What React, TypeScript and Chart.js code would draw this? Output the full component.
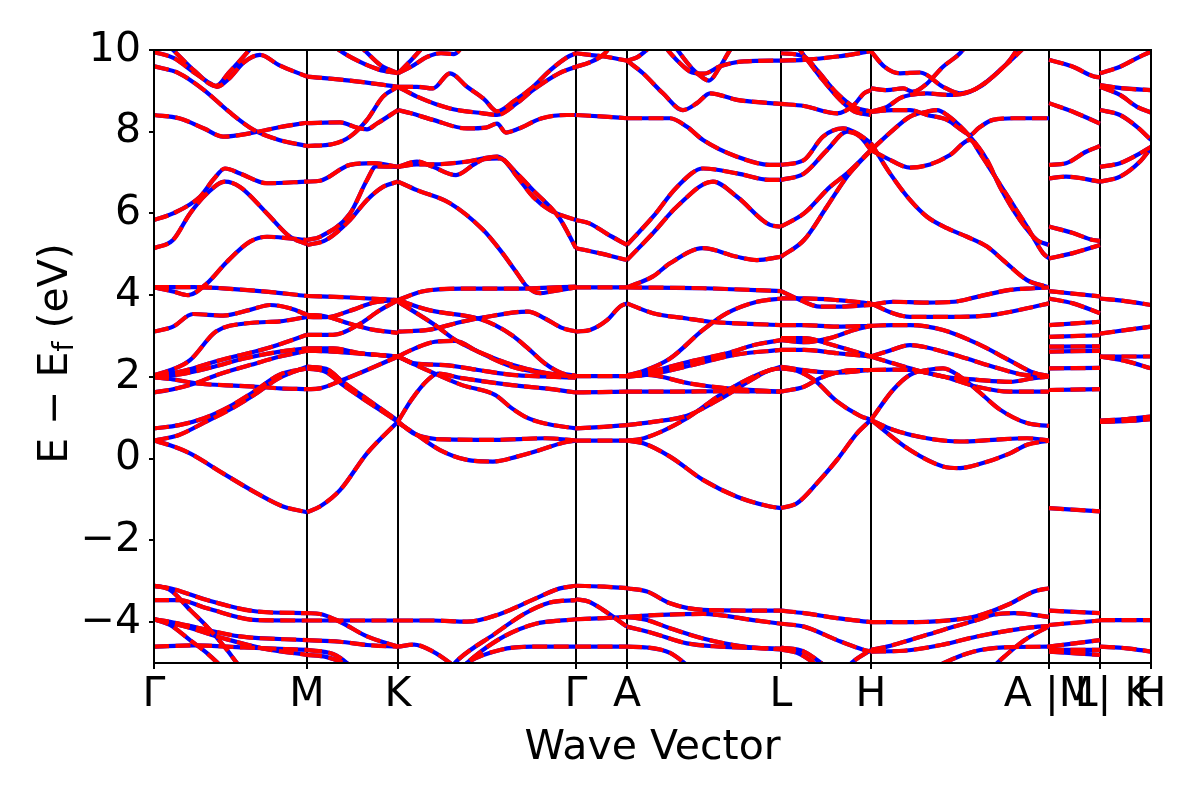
import { useEffect, useRef } from 'react';
import { Chart, registerables } from 'chart.js';

Chart.register(...registerables);

type Curve = [number, number][];

const FONT = "'DejaVu Sans'";

// high-symmetry positions along the k-path and their labels
const kTicks = [0, 1.53, 2.44, 4.22, 4.73, 6.27, 7.17, 8.95, 9.46, 9.97];
const kLabels = ['Γ', 'M', 'K', 'Γ', 'A', 'L', 'H', 'A |M', '\u00a0\u00a0L| K', 'H'];
const yTicks = [-4, -2, 0, 2, 4, 6, 8, 10];

// Γ → M
const segGM: Curve[] = [
  [[0, 9.95], [0.2, 9.8], [0.4, 9.45], [0.55, 9.2], [0.63, 9.1], [0.75, 9.3], [0.9, 9.7], [1.06, 9.88], [1.25, 9.63], [1.53, 9.35]],
  [[0.05, 10.3], [0.19, 10.0], [0.4, 9.5], [0.62, 9.12], [0.75, 9.45], [0.96, 10.02], [1.05, 10.3]],
  [[0, 9.6], [0.25, 9.43], [0.5, 9.02], [0.75, 8.49], [1.0, 8.04], [1.25, 7.8], [1.53, 7.65]],
  [[0, 8.41], [0.25, 8.33], [0.5, 8.08], [0.69, 7.88], [1.0, 7.98], [1.25, 8.11], [1.53, 8.22]],
  [[0, 5.84], [0.19, 6.0], [0.46, 6.41], [0.6, 6.85], [0.71, 7.1], [0.86, 6.98], [1.13, 6.74], [1.53, 6.78]],
  [[0, 5.15], [0.19, 5.35], [0.36, 6.0], [0.53, 6.49], [0.71, 6.78], [0.86, 6.65], [1.13, 6.0], [1.36, 5.43], [1.53, 5.25]],
  [[0, 4.19], [0.19, 4.09], [0.34, 4.0], [0.53, 4.29], [0.73, 4.82], [0.96, 5.31], [1.13, 5.43], [1.36, 5.39], [1.53, 5.35]],
  [[0, 4.2], [0.4, 4.2], [0.8, 4.15], [1.2, 4.07], [1.53, 3.98]],
  [[0, 3.11], [0.19, 3.23], [0.39, 3.54], [0.69, 3.5], [0.96, 3.64], [1.16, 3.76], [1.36, 3.68], [1.53, 3.52]],
  [[0, 2.04], [0.2, 2.2], [0.36, 2.41], [0.62, 3.11], [0.96, 3.32], [1.26, 3.36], [1.53, 3.47]],
  [[0, 2.02], [0.3, 2.15], [0.66, 2.41], [1.13, 2.7], [1.53, 3.03]],
  [[0, 2.0], [0.3, 2.08], [0.6, 2.25], [0.9, 2.45], [1.26, 2.62], [1.53, 2.7]],
  [[0, 1.62], [0.19, 1.7], [0.43, 1.86], [0.63, 2.05], [0.96, 2.29], [1.26, 2.5], [1.53, 2.64]],
  [[0, 1.99], [0.19, 1.94], [0.43, 1.84], [0.69, 1.8], [1.03, 1.76], [1.26, 1.72], [1.53, 1.7]],
  [[0, 0.74], [0.25, 0.82], [0.5, 0.99], [0.75, 1.27], [1.0, 1.64], [1.25, 2.05], [1.53, 2.21]],
  [[0, 0.44], [0.25, 0.58], [0.5, 0.88], [0.75, 1.19], [1.0, 1.56], [1.25, 1.97], [1.53, 2.25]],
  [[0, 0.44], [0.16, 0.33], [0.36, 0.13], [0.69, -0.36], [1.03, -0.85], [1.29, -1.17], [1.53, -1.31]],
  [[0, -3.11], [0.16, -3.17], [0.53, -3.46], [1.03, -3.74], [1.53, -3.78]],
  [[0, -3.11], [0.16, -3.21], [0.36, -3.7], [0.53, -4.11], [0.73, -4.68], [0.86, -5.09], [0.95, -5.3]],
  [[0, -3.46], [0.25, -3.46], [0.53, -3.66], [1.03, -3.95], [1.53, -3.96]],
  [[0, -3.93], [0.16, -3.99], [0.46, -4.15], [0.86, -4.35], [1.53, -4.44]],
  [[0, -3.93], [0.16, -4.07], [0.36, -4.44], [0.53, -4.76], [0.66, -5.05], [0.78, -5.3]],
  [[0, -4.6], [0.4, -4.57], [0.9, -4.62], [1.53, -4.68]],
  [[0, -3.93], [0.3, -4.1], [0.7, -4.4], [1.1, -4.65], [1.53, -4.8]],
];

// M → K
const segMK: Curve[] = [
  [[1.53, 9.35], [1.96, 9.25], [2.44, 9.1]],
  [[1.75, 10.2], [1.85, 10.0], [2.05, 9.72], [2.25, 9.52], [2.44, 9.43]],
  [[2.0, 10.2], [2.1, 10.0], [2.27, 9.62], [2.44, 9.43]],
  [[1.53, 8.21], [1.86, 8.23], [2.03, 8.1], [2.13, 8.06], [2.23, 8.2], [2.44, 8.53]],
  [[1.53, 7.65], [1.79, 7.7], [1.96, 7.88], [2.13, 8.29], [2.29, 8.86], [2.44, 9.1]],
  [[1.53, 6.78], [1.66, 6.8], [1.96, 7.19], [2.19, 7.23], [2.44, 7.14]],
  [[1.53, 5.35], [1.66, 5.43], [1.96, 6.0], [2.13, 6.82], [2.22, 7.15], [2.44, 7.14]],
  [[1.53, 5.23], [1.72, 5.35], [1.96, 5.84], [2.13, 6.33], [2.29, 6.65], [2.44, 6.78]],
  [[1.53, 3.98], [1.9, 3.95], [2.44, 3.88]],
  [[1.53, 3.52], [1.72, 3.48], [1.96, 3.3], [2.2, 3.15], [2.44, 3.08]],
  [[1.53, 3.47], [1.72, 3.46], [1.96, 3.62], [2.2, 3.82], [2.44, 3.88]],
  [[1.53, 3.03], [1.79, 3.03], [2.06, 3.3], [2.25, 3.62], [2.44, 3.88]],
  [[1.53, 2.7], [1.79, 2.7], [2.06, 2.58], [2.44, 2.5]],
  [[1.53, 2.64], [1.79, 2.62], [2.13, 2.56], [2.44, 2.5]],
  [[1.53, 2.25], [1.72, 2.2], [1.89, 1.88], [2.13, 1.46], [2.44, 0.93]],
  [[1.53, 2.21], [1.72, 2.12], [1.89, 1.8], [2.13, 1.4], [2.44, 0.9]],
  [[1.53, 1.7], [1.66, 1.72], [1.89, 1.93], [2.13, 2.17], [2.44, 2.5]],
  [[1.53, -1.31], [1.66, -1.17], [1.86, -0.77], [2.13, 0.13], [2.44, 0.91]],
  [[1.53, -3.78], [1.66, -3.8], [1.86, -3.99], [2.13, -4.35], [2.44, -4.6]],
  [[1.53, -3.96], [2.0, -3.96], [2.44, -3.96]],
  [[1.53, -4.44], [1.86, -4.48], [2.13, -4.56], [2.44, -4.6]],
  [[1.53, -4.68], [1.79, -4.78], [1.93, -5.0], [2.05, -5.3]],
  [[1.53, -4.8], [1.72, -4.85], [1.93, -5.05], [2.05, -5.3]],
];

// K → Γ
const segKG: Curve[] = [
  [[2.44, 9.43], [2.57, 9.59], [2.74, 9.84], [2.87, 9.92], [3.0, 9.9], [3.12, 10.2]],
  [[2.44, 9.43], [2.55, 9.7], [2.68, 10.05], [2.75, 10.3]],
  [[2.44, 9.1], [2.63, 9.1], [2.79, 9.06], [2.96, 9.43], [3.13, 9.1], [3.3, 8.8], [3.43, 8.5], [3.6, 8.75], [3.79, 9.1], [3.96, 9.5], [4.13, 9.82], [4.22, 9.92]],
  [[2.44, 9.1], [2.63, 8.86], [2.96, 8.57], [3.29, 8.45], [3.43, 8.41], [3.63, 8.7], [3.79, 9.02], [4.05, 9.43], [4.22, 9.59]],
  [[2.44, 8.53], [2.57, 8.45], [2.79, 8.29], [3.13, 8.08], [3.32, 8.1], [3.43, 8.2], [3.52, 7.98], [3.63, 8.06], [3.88, 8.33], [4.13, 8.41], [4.22, 8.41]],
  [[2.44, 7.14], [2.63, 7.27], [2.79, 7.14], [3.02, 6.94], [3.2, 7.2], [3.3, 7.33], [3.46, 7.35], [3.63, 6.9], [3.79, 6.41], [3.96, 6.08], [4.22, 5.84]],
  [[2.44, 7.14], [2.63, 7.2], [2.79, 7.2], [3.13, 7.27], [3.43, 7.39], [3.63, 6.98], [3.79, 6.57], [4.05, 5.9], [4.22, 5.15]],
  [[2.44, 6.78], [2.63, 6.57], [2.96, 6.25], [3.29, 5.6], [3.46, 5.11], [3.63, 4.54], [3.73, 4.21], [3.86, 4.05], [3.99, 4.1], [4.22, 4.19]],
  [[2.44, 3.88], [2.68, 4.09], [3.08, 4.16], [3.6, 4.16], [4.22, 4.21]],
  [[2.44, 3.88], [2.74, 3.64], [3.24, 3.43], [3.41, 3.27], [3.58, 3.02], [3.74, 2.7], [3.91, 2.33], [4.08, 2.09], [4.22, 2.03]],
  [[2.44, 3.84], [2.81, 3.27], [3.01, 2.91], [3.24, 2.62], [3.58, 2.25], [3.91, 2.09], [4.22, 2.01]],
  [[2.44, 3.11], [2.74, 3.15], [3.08, 3.35], [3.28, 3.45], [3.74, 3.6], [3.91, 3.43], [4.08, 3.2], [4.22, 3.11]],
  [[2.44, 2.5], [2.61, 2.7], [2.81, 2.86], [3.01, 2.88], [3.24, 2.62], [3.58, 2.3], [3.91, 2.1], [4.22, 2.0]],
  [[2.44, 2.5], [2.61, 2.33], [2.91, 2.29], [3.24, 2.17], [3.58, 2.05], [3.91, 2.01], [4.22, 1.98]],
  [[2.44, 2.5], [2.61, 2.3], [2.81, 2.08], [3.08, 1.8], [3.41, 1.56], [3.58, 1.23], [3.74, 0.99], [3.91, 0.86], [4.22, 0.74]],
  [[2.44, 0.91], [2.58, 1.46], [2.74, 1.93], [2.84, 2.08], [3.08, 1.97], [3.58, 1.8], [3.91, 1.72], [4.22, 1.62]],
  [[2.44, 0.91], [2.61, 0.6], [2.91, 0.47], [3.41, 0.46], [3.91, 0.5], [4.22, 0.44]],
  [[2.44, 0.88], [2.63, 0.58], [2.86, 0.21], [3.13, -0.03], [3.39, -0.07], [3.63, 0.05], [3.86, 0.21], [4.09, 0.39], [4.22, 0.44]],
  [[2.44, -3.96], [2.79, -3.96], [3.13, -3.99], [3.46, -3.8], [3.79, -3.45], [4.05, -3.18], [4.22, -3.11]],
  [[2.9, -5.3], [3.05, -4.9], [3.4, -4.3], [3.7, -3.8], [3.96, -3.52], [4.22, -3.46]],
  [[3.0, -5.3], [3.2, -4.85], [3.5, -4.35], [3.8, -4.05], [4.22, -3.93]],
  [[2.44, -4.6], [2.6, -4.55], [2.79, -4.72], [2.96, -5.0], [3.1, -5.3]],
  [[3.0, -5.3], [3.13, -5.0], [3.46, -4.68], [3.79, -4.6], [4.22, -4.6]],
];

// Γ → A
const segGA: Curve[] = [
  [[4.22, 9.92], [4.5, 9.84], [4.73, 9.74]],
  [[4.22, 9.59], [4.36, 9.7], [4.5, 9.9], [4.6, 10.2]],
  [[4.22, 8.41], [4.5, 8.37], [4.73, 8.33]],
  [[4.22, 5.84], [4.36, 5.75], [4.53, 5.5], [4.73, 5.23]],
  [[4.22, 5.15], [4.45, 5.03], [4.73, 4.86]],
  [[4.22, 4.19], [4.73, 4.19]],
  [[4.22, 3.11], [4.36, 3.15], [4.53, 3.39], [4.66, 3.72], [4.73, 3.8]],
  [[4.22, 2.02], [4.73, 2.02]],
  [[4.22, 1.62], [4.73, 1.64]],
  [[4.22, 0.74], [4.5, 0.78], [4.73, 0.82]],
  [[4.22, 0.44], [4.73, 0.44]],
  [[4.22, -3.11], [4.5, -3.13], [4.73, -3.17]],
  [[4.22, -3.44], [4.35, -3.5], [4.49, -3.7], [4.73, -4.11]],
  [[4.22, -3.93], [4.5, -3.9], [4.73, -3.87]],
  [[4.22, -4.6], [4.73, -4.6]],
];

// A → L
const segAL: Curve[] = [
  [[4.73, 9.74], [4.89, 9.43], [5.09, 8.94], [5.29, 8.53], [5.43, 8.7], [5.56, 8.94], [5.83, 8.78], [6.16, 8.7], [6.27, 8.68]],
  [[4.73, 9.74], [4.83, 9.82], [4.95, 10.05], [5.05, 10.3]],
  [[5.15, 10.3], [5.25, 9.95], [5.38, 9.55], [5.5, 9.3], [5.55, 9.25], [5.65, 9.55], [5.76, 10.0], [5.85, 10.3]],
  [[5.1, 10.1], [5.25, 9.7], [5.38, 9.45], [5.5, 9.42], [5.66, 9.6], [5.9, 9.72], [6.27, 9.74]],
  [[4.73, 8.33], [5.16, 8.33], [5.33, 8.12], [5.49, 7.8], [5.83, 7.39], [6.16, 7.19], [6.27, 7.19]],
  [[4.73, 5.23], [4.99, 5.92], [5.23, 6.65], [5.49, 7.1], [5.83, 6.98], [6.16, 6.82], [6.27, 6.82]],
  [[4.73, 4.86], [4.99, 5.52], [5.23, 6.17], [5.59, 6.78], [5.83, 6.41], [6.16, 5.72], [6.27, 5.68]],
  [[4.73, 4.19], [4.99, 4.46], [5.16, 4.78], [5.49, 5.15], [5.83, 4.94], [6.03, 4.86], [6.27, 4.94]],
  [[4.73, 4.19], [5.49, 4.17], [6.27, 4.1]],
  [[4.73, 3.8], [4.99, 3.56], [5.33, 3.43], [5.56, 3.35], [5.83, 3.31], [6.27, 3.27]],
  [[4.73, 2.04], [4.9, 2.15], [5.16, 2.45], [5.49, 3.15], [5.73, 3.56], [6.03, 3.84], [6.27, 3.92]],
  [[4.73, 2.02], [5.0, 2.15], [5.4, 2.4], [5.76, 2.6], [6.0, 2.78], [6.27, 2.9]],
  [[4.73, 2.0], [5.0, 2.08], [5.4, 2.3], [5.83, 2.55], [6.27, 2.66]],
  [[4.73, 2.02], [4.93, 2.05], [5.36, 1.84], [5.83, 1.7], [6.27, 1.64]],
  [[4.73, 1.64], [5.2, 1.64], [5.7, 1.65], [6.27, 1.64]],
  [[4.73, 0.82], [4.99, 0.9], [5.33, 1.05], [5.66, 1.46], [5.99, 1.95], [6.16, 2.17], [6.27, 2.21]],
  [[4.73, 0.44], [4.9, 0.5], [5.33, 0.99], [5.66, 1.56], [6.03, 2.05], [6.27, 2.25]],
  [[4.73, 0.44], [4.9, 0.37], [5.16, 0.05], [5.49, -0.52], [5.83, -0.93], [6.16, -1.17], [6.27, -1.21]],
  [[4.73, -3.17], [4.93, -3.25], [5.16, -3.54], [5.49, -3.7], [6.27, -3.72]],
  [[4.73, -3.87], [5.0, -3.83], [5.49, -3.8], [5.99, -3.95], [6.27, -4.04]],
  [[4.73, -4.11], [4.99, -4.27], [5.33, -4.52], [5.66, -4.6], [5.99, -4.63], [6.27, -4.65]],
  [[4.73, -3.87], [4.93, -3.95], [5.16, -4.15], [5.49, -4.4], [5.9, -4.6], [6.27, -4.67]],
  [[4.73, -4.6], [4.93, -4.62], [5.16, -4.75], [5.33, -5.05], [5.45, -5.3]],
];

// L → H
const segLH: Curve[] = [
  [[6.27, 9.74], [6.5, 9.76], [6.83, 9.84], [7.17, 9.97]],
  [[6.27, 9.92], [6.5, 9.84], [6.63, 9.51], [6.83, 8.94], [7.0, 8.61], [7.17, 8.49]],
  [[6.4, 10.2], [6.55, 9.7], [6.66, 9.35], [6.86, 8.78], [7.0, 8.5], [7.17, 8.41]],
  [[6.27, 8.68], [6.5, 8.63], [6.83, 8.45], [7.0, 8.66], [7.1, 8.94], [7.17, 9.02]],
  [[6.27, 7.19], [6.5, 7.31], [6.69, 7.88], [6.89, 8.08], [7.03, 7.96], [7.17, 7.72]],
  [[6.27, 6.82], [6.5, 6.98], [6.73, 7.55], [6.93, 8.0], [7.06, 7.88], [7.17, 7.55]],
  [[6.27, 5.68], [6.5, 6.0], [6.76, 6.65], [6.93, 6.98], [7.17, 7.55]],
  [[6.27, 4.94], [6.5, 5.35], [6.73, 6.17], [6.93, 6.9], [7.17, 7.55]],
  [[6.27, 4.1], [6.43, 3.92], [6.66, 3.72], [6.83, 3.72], [7.17, 3.76]],
  [[6.27, 3.92], [6.5, 3.92], [6.83, 3.88], [7.17, 3.8]],
  [[6.27, 3.27], [6.5, 3.27], [6.83, 3.23], [7.17, 3.25]],
  [[6.27, 2.95], [6.5, 2.95], [6.76, 2.8], [7.17, 2.5]],
  [[6.27, 2.9], [6.5, 2.85], [6.76, 2.95], [7.0, 3.15], [7.17, 3.25]],
  [[6.27, 2.66], [6.5, 2.66], [6.83, 2.58], [7.17, 2.5]],
  [[6.27, 2.21], [6.43, 2.15], [6.6, 1.93], [6.83, 1.4], [7.06, 1.05], [7.17, 0.95]],
  [[6.27, 2.25], [6.55, 2.15], [6.8, 2.1], [7.17, 2.17]],
  [[6.27, 1.64], [6.5, 1.76], [6.66, 1.97], [6.99, 2.17], [7.17, 2.17]],
  [[6.27, -1.21], [6.43, -1.09], [6.63, -0.6], [6.83, -0.03], [7.03, 0.62], [7.17, 0.95]],
  [[6.27, -3.72], [6.5, -3.78], [6.83, -3.9], [7.17, -4.0]],
  [[6.27, -4.04], [6.5, -4.11], [6.83, -4.44], [7.1, -4.68], [7.17, -4.72]],
  [[6.27, -4.67], [6.43, -4.75], [6.6, -5.0], [6.75, -5.3]],
  [[6.27, -4.62], [6.5, -4.72], [6.7, -5.05], [6.85, -5.3]],
  [[6.85, -5.3], [7.0, -4.95], [7.17, -4.68]],
];

// H → A
const segHA: Curve[] = [
  [[7.17, 9.97], [7.3, 9.6], [7.46, 9.43], [7.66, 9.45], [7.89, 9.1], [8.06, 8.94], [8.26, 9.1], [8.46, 9.51], [8.66, 9.96], [8.75, 10.2]],
  [[7.17, 9.06], [7.33, 9.02], [7.49, 9.06], [7.59, 8.98], [7.73, 9.18], [7.89, 9.59], [8.06, 9.92], [8.15, 10.2]],
  [[7.17, 8.49], [7.39, 8.53], [7.56, 8.53], [7.73, 8.41], [7.93, 8.29], [8.1, 8.0], [8.16, 7.92], [8.25, 8.1], [8.39, 8.29], [8.6, 8.33], [8.95, 8.33]],
  [[7.17, 8.49], [7.33, 8.61], [7.46, 8.82], [7.56, 8.9], [7.73, 8.94], [7.93, 8.9], [8.16, 8.98], [8.39, 9.35], [8.56, 9.76], [8.68, 10.2]],
  [[7.17, 7.55], [7.39, 8.04], [7.56, 8.37], [7.73, 8.49], [7.83, 8.53], [7.93, 8.41], [8.16, 7.88], [8.33, 7.31], [8.46, 6.65], [8.66, 5.84], [8.83, 5.35], [8.95, 5.23]],
  [[7.17, 7.55], [7.33, 7.35], [7.56, 7.12], [7.76, 7.2], [7.96, 7.43], [8.16, 7.8], [8.26, 7.47], [8.39, 6.98], [8.56, 6.33], [8.73, 5.68], [8.89, 5.03], [8.95, 4.9]],
  [[7.17, 7.72], [7.36, 6.98], [7.56, 6.33], [7.73, 5.92], [7.93, 5.64], [8.13, 5.43], [8.33, 5.19], [8.49, 4.86], [8.73, 4.37], [8.95, 4.19]],
  [[7.17, 3.76], [7.39, 3.84], [7.73, 3.82], [8.0, 3.84], [8.23, 3.96], [8.56, 4.13], [8.8, 4.17], [8.95, 4.19]],
  [[7.17, 3.8], [7.39, 3.56], [7.56, 3.47], [8.06, 3.47], [8.39, 3.52], [8.73, 3.68], [8.95, 3.8]],
  [[7.17, 3.25], [7.39, 3.27], [7.56, 3.27], [7.89, 3.15], [8.23, 2.82], [8.56, 2.4], [8.8, 2.1], [8.95, 2.02]],
  [[7.17, 2.5], [7.33, 2.62], [7.56, 2.78], [7.73, 2.72], [8.06, 2.5], [8.39, 2.25], [8.7, 2.05], [8.95, 2.02]],
  [[7.17, 2.5], [7.33, 2.38], [7.56, 2.21], [7.89, 2.01], [8.23, 1.93], [8.56, 1.88], [8.8, 1.97], [8.95, 2.01]],
  [[7.17, 2.17], [7.39, 2.18], [7.56, 2.17], [7.89, 2.01], [8.23, 1.76], [8.56, 1.64], [8.95, 1.64]],
  [[7.17, 0.95], [7.39, 1.68], [7.56, 2.05], [7.73, 2.17], [7.89, 2.21], [8.06, 2.01], [8.23, 1.68], [8.46, 1.2], [8.73, 0.87], [8.95, 0.8]],
  [[7.17, 0.95], [7.39, 0.71], [7.73, 0.5], [8.06, 0.42], [8.39, 0.46], [8.73, 0.5], [8.95, 0.44]],
  [[7.17, 0.95], [7.56, 0.21], [7.89, -0.19], [8.06, -0.23], [8.23, -0.15], [8.56, 0.13], [8.73, 0.34], [8.95, 0.44]],
  [[7.17, -4.0], [7.5, -4.0], [7.89, -3.97], [8.23, -3.85], [8.56, -3.55], [8.8, -3.25], [8.95, -3.17]],
  [[7.17, -4.68], [7.33, -4.6], [7.56, -4.44], [7.89, -4.19], [8.23, -3.95], [8.39, -3.82], [8.6, -3.78], [8.95, -3.87]],
  [[7.17, -4.72], [7.5, -4.7], [7.89, -4.55], [8.23, -4.35], [8.56, -4.2], [8.8, -4.12], [8.95, -4.1]],
  [[7.7, -5.3], [7.9, -5.0], [8.2, -4.72], [8.5, -4.62], [8.95, -4.6]],
  [[8.3, -5.3], [8.5, -4.85], [8.7, -4.45], [8.95, -4.1]],
];

// M → L (after path break)
const segML: Curve[] = [
  [[8.95, 9.76], [9.19, 9.59], [9.4, 9.35], [9.46, 9.33]],
  [[8.95, 8.7], [9.19, 8.49], [9.46, 8.2]],
  [[8.95, 7.19], [9.12, 7.23], [9.32, 7.51], [9.46, 7.65]],
  [[8.95, 6.86], [9.12, 6.9], [9.46, 6.78]],
  [[8.95, 5.68], [9.19, 5.52], [9.39, 5.35], [9.46, 5.33]],
  [[8.95, 4.9], [9.19, 5.03], [9.46, 5.23]],
  [[8.95, 4.1], [9.46, 3.97]],
  [[8.95, 3.92], [9.19, 3.8], [9.46, 3.56]],
  [[8.95, 3.27], [9.46, 3.35]],
  [[8.95, 2.98], [9.46, 3.02]],
  [[8.95, 2.74], [9.46, 2.75]],
  [[8.95, 2.62], [9.46, 2.64]],
  [[8.95, 2.21], [9.46, 2.22]],
  [[8.95, 1.68], [9.46, 1.7]],
  [[8.95, -1.21], [9.46, -1.29]],
  [[8.95, -3.72], [9.46, -3.78]],
  [[8.95, -4.07], [9.46, -3.96]],
  [[8.95, -4.6], [9.46, -4.44]],
  [[8.95, -4.68], [9.46, -4.68]],
  [[8.95, -4.72], [9.46, -4.8]],
];

// K → H (after path break)
const segKH: Curve[] = [
  [[9.46, 9.43], [9.66, 9.59], [9.86, 9.84], [9.97, 9.96]],
  [[9.46, 9.14], [9.7, 9.06], [9.97, 9.02]],
  [[9.46, 9.1], [9.66, 8.9], [9.83, 8.61], [9.97, 8.47]],
  [[9.46, 8.53], [9.66, 8.41], [9.83, 8.12], [9.97, 7.8]],
  [[9.46, 7.14], [9.66, 7.23], [9.86, 7.47], [9.97, 7.63]],
  [[9.46, 6.78], [9.66, 6.9], [9.86, 7.27], [9.97, 7.6]],
  [[9.46, 3.92], [9.73, 3.85], [9.97, 3.76]],
  [[9.46, 3.06], [9.73, 3.15], [9.97, 3.23]],
  [[9.46, 2.5], [9.97, 2.5]],
  [[9.46, 2.5], [9.73, 2.38], [9.97, 2.21]],
  [[9.46, 0.93], [9.73, 0.97], [9.97, 1.03]],
  [[9.46, 0.9], [9.8, 0.93], [9.97, 0.97]],
  [[9.46, -3.95], [9.97, -3.95]],
  [[9.46, -4.6], [9.73, -4.64], [9.97, -4.72]],
];

const segments: Curve[][] = [segGM, segMK, segKG, segGA, segAL, segLH, segHA, segML, segKH];

const fmtY = (v: number) => (v < 0 ? '\u2212' + Math.abs(v) : String(v));

const framePlugin = {
  id: 'frame',
  afterDatasetsDraw(chart: any) {
    const { ctx, chartArea } = chart;
    const { left, top, right, bottom } = chartArea;
    ctx.save();
    ctx.strokeStyle = '#000';
    ctx.lineWidth = 2;
    ctx.strokeRect(left, top, right - left, bottom - top);
    ctx.restore();
  },
};

const yTitlePlugin = {
  id: 'yTitle',
  afterDraw(chart: any) {
    const { ctx, chartArea } = chart;
    const cy = (chartArea.top + chartArea.bottom) / 2 - 3;
    const big = `41px ${FONT}`;
    const small = `29px ${FONT}`;
    const parts: [string, string, number][] = [
      ['E \u2212 E', big, 0],
      ['f', small, 6],
      [' (eV)', big, 0],
    ];
    ctx.save();
    ctx.translate(67, cy);
    ctx.rotate(-Math.PI / 2);
    ctx.fillStyle = '#000';
    ctx.textBaseline = 'alphabetic';
    ctx.textAlign = 'left';
    let total = 0;
    for (const [t, f] of parts) {
      ctx.font = f;
      total += ctx.measureText(t).width;
    }
    let x = -total / 2;
    for (const [t, f, dy] of parts) {
      ctx.font = f;
      ctx.fillText(t, x, dy);
      x += ctx.measureText(t).width;
    }
    ctx.restore();
  },
};

export default function App() {
  const ref = useRef<HTMLCanvasElement>(null);

  useEffect(() => {
    if (!ref.current) return;
    const datasets: any[] = [];
    for (const seg of segments) {
      for (const c of seg) {
        const data = c.map(([x, y]) => ({ x, y }));
        const common = {
          data,
          pointRadius: 0,
          fill: false,
          borderWidth: 4.2,
          cubicInterpolationMode: 'monotone',
          clip: 0,
        };
        datasets.push({ ...common, borderColor: '#0000ff', order: 1 });
        datasets.push({ ...common, borderColor: '#ff0000', borderDash: [15, 6.5], order: 0 });
      }
    }

    const chart = new Chart(ref.current, {
      type: 'line',
      data: { datasets },
      options: {
        animation: false,
        responsive: false,
        devicePixelRatio: 1,
        events: [],
        layout: { padding: { left: 0, right: 49, top: 50, bottom: 0 } },
        plugins: {
          legend: { display: false },
          tooltip: { enabled: false },
          title: { display: false },
        },
        scales: {
          x: {
            type: 'linear',
            min: 0,
            max: 9.97,
            afterBuildTicks: (s: any) => {
              s.ticks = kTicks.map((v) => ({ value: v }));
            },
            afterFit: (s: any) => {
              s.height = 137;
            },
            ticks: {
              autoSkip: false,
              maxRotation: 0,
              minRotation: 0,
              padding: 2,
              color: '#000',
              font: { family: FONT, size: 41 },
              callback: (_v: any, i: number) => kLabels[i],
            },
            grid: { color: '#000', lineWidth: 2, tickLength: 6, drawOnChartArea: true },
            border: { display: true, color: '#000', width: 2 },
            title: {
              display: true,
              text: 'Wave Vector',
              color: '#000',
              font: { family: FONT, size: 41 },
              padding: { top: 0, bottom: 27 },
            },
          },
          y: {
            type: 'linear',
            min: -5,
            max: 10,
            afterBuildTicks: (s: any) => {
              s.ticks = yTicks.map((v) => ({ value: v }));
            },
            afterFit: (s: any) => {
              s.width = 154;
            },
            ticks: {
              padding: 8,
              color: '#000',
              font: { family: FONT, size: 41 },
              callback: (v: any) => fmtY(Number(v)),
            },
            grid: { color: '#000', lineWidth: 2, tickLength: 5, drawOnChartArea: false },
            border: { display: true, color: '#000', width: 2 },
          },
        },
      } as any,
      plugins: [framePlugin, yTitlePlugin],
    });

    return () => chart.destroy();
  }, []);

  return (
    <div style={{ position: 'absolute', left: 0, top: 0, width: 1200, height: 800, background: '#fff' }}>
      <canvas ref={ref} width={1200} height={800} style={{ width: 1200, height: 800, display: 'block' }} />
    </div>
  );
}
